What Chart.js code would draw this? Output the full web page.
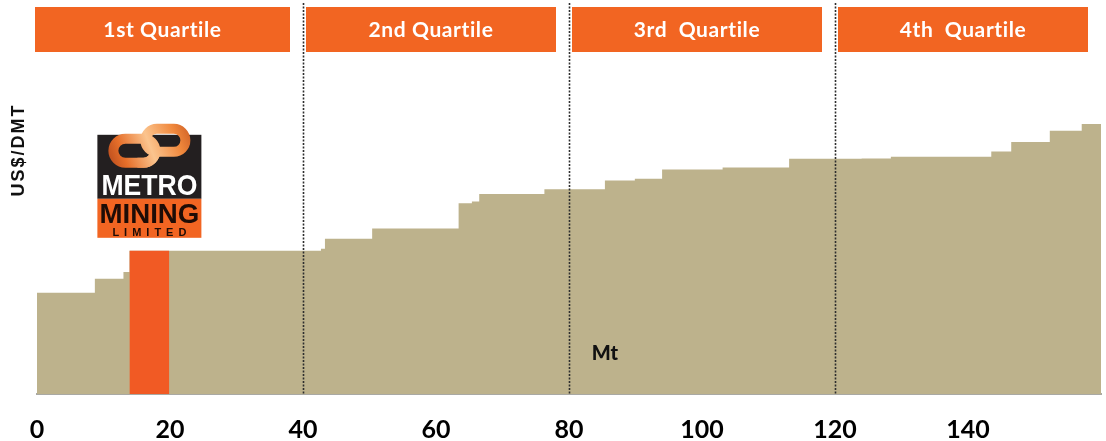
<!DOCTYPE html>
<html>
<head>
<meta charset="utf-8">
<script src="https://cdn.jsdelivr.net/npm/chart.js@4/dist/chart.umd.min.js"></script>
<style>
  html, body { margin: 0; padding: 0; background: #fff; }
  canvas { display: block; }
</style>
</head>
<body>
<canvas id="costCurve" width="1106" height="441"></canvas>
<script>
// where each producer block starts on the cumulative supply axis (Mt)
const supplyStart = [0, 8.7, 13.0, 13.9, 19.9, 42.7, 43.3, 50.4, 63.4, 65.4, 66.5, 76.3,
    85.4, 89.9, 94.0, 103.1, 108.0, 113.1, 124.0, 128.4, 143.5, 146.5, 152.3, 157.1];
const supplyEnd = 160;
// cost of each block (US$/DMT)
const costUsd = [25.3, 28.8, 30.5, 35.8, 35.8, 36.3, 38.8, 41.4, 47.7, 48.1, 50.0, 51.2,
    53.4, 53.8, 56.1, 56.6, 56.6, 58.8, 58.9, 59.3, 60.6, 63.0, 65.8, 67.5];
const metroIndex = 3;

const quartileBreaks = [0, 40, 80, 120, 160];
const quartileNames = ['1st Quartile', '2nd Quartile', '3rd  Quartile', '4th  Quartile'];
const xTickStep = 20;
const xTickLast = 140;

const tan = '#bdb28c';
const orange = '#f26522';

const curvePoints = supplyStart.map((x, i) => ({ x, y: costUsd[i] }));
curvePoints.push({ x: supplyEnd, y: costUsd[costUsd.length - 1] });

const metroPoints = [
    { x: supplyStart[metroIndex], y: costUsd[metroIndex] },
    { x: supplyStart[metroIndex + 1], y: costUsd[metroIndex] },
];

const drawLink = (ctx, x, y, w, h) => {
    ctx.beginPath();
    ctx.roundRect(x, y, w, h, h / 2);
    ctx.stroke();
};

const drawLogo = (ctx, cx, bottom) => {
    const w = 104;
    const left = cx - w / 2;
    const top = bottom - 103;

    ctx.fillStyle = '#231f20';
    ctx.fillRect(left, top, w, 64);
    ctx.fillStyle = orange;
    ctx.fillRect(left, top + 64, w, 39);

    // chain links
    const grad = ctx.createLinearGradient(left, top + 30, left + w, top - 10);
    grad.addColorStop(0, '#9c3414');
    grad.addColorStop(0.25, '#e66f2a');
    grad.addColorStop(0.5, '#fbc48e');
    grad.addColorStop(0.75, '#f0883c');
    grad.addColorStop(1, '#b94618');
    ctx.strokeStyle = grad;
    ctx.lineWidth = 10;
    drawLink(ctx, cx - 36, top + 4, 42, 24);
    drawLink(ctx, cx - 4, top - 6, 40, 23);
    // left link passes back over the right one
    ctx.save();
    ctx.beginPath();
    ctx.rect(cx - 12, top + 14, 24, 20);
    ctx.clip();
    drawLink(ctx, cx - 36, top + 4, 42, 24);
    ctx.restore();

    ctx.textAlign = 'center';
    ctx.textBaseline = 'alphabetic';
    ctx.fillStyle = '#fff';
    ctx.font = 'bold 30px "Liberation Sans"';
    ctx.fillText('METRO', cx, top + 60, 96);
    ctx.fillStyle = '#1e0c06';
    ctx.font = 'bold 28px "Liberation Sans"';
    ctx.fillText('MINING', cx, top + 88, 100);
    ctx.font = 'bold 11px "Liberation Sans"';
    ctx.letterSpacing = '5px';
    ctx.fillText('LIMITED', cx + 2.5, top + 101, 98);
    ctx.letterSpacing = '0px';
};

const decorPlugin = {
    id: 'decor',
    afterDraw(chart) {
        const { ctx, chartArea, scales: { x, y } } = chart;
        ctx.save();

        // dotted quartile separators
        ctx.strokeStyle = '#2e2e2e';
        ctx.lineWidth = 1.6;
        ctx.setLineDash([2, 1.5]);
        quartileBreaks.slice(1, -1).forEach((q) => {
            const px = Math.round(x.getPixelForValue(q)) + 0.5;
            ctx.beginPath();
            ctx.moveTo(px, 3);
            ctx.lineTo(px, chartArea.bottom);
            ctx.stroke();
        });
        ctx.setLineDash([]);

        // quartile header boxes
        ctx.textAlign = 'center';
        ctx.textBaseline = 'middle';
        ctx.font = 'bold 21px Lato';
        quartileNames.forEach((name, i) => {
            const l = x.getPixelForValue(quartileBreaks[i]) + (i === 0 ? -2 : 3);
            const r = x.getPixelForValue(quartileBreaks[i + 1]) - 13;
            ctx.fillStyle = orange;
            ctx.fillRect(l, 7, r - l, 45);
            ctx.fillStyle = '#fff';
            ctx.letterSpacing = '0.6px';
            ctx.fillText(name, (l + r) / 2, 30);
        });
        ctx.letterSpacing = '0px';

        // axis titles
        ctx.fillStyle = '#111';
        ctx.font = 'normal 900 20px Lato';
        ctx.fillText('Mt', x.getPixelForValue(85.4), y.getPixelForValue(10));

        ctx.save();
        ctx.translate(19, 150);
        ctx.rotate(-Math.PI / 2);
        ctx.font = 'bold 18px "Liberation Sans"';
        ctx.letterSpacing = '2px';
        ctx.fillText('US$/DMT', 0, 0);
        ctx.restore();

        // company logo above its block
        const mid = (supplyStart[metroIndex] + supplyStart[metroIndex + 1]) / 2;
        drawLogo(ctx, x.getPixelForValue(mid), y.getPixelForValue(costUsd[metroIndex]) - 13);

        ctx.restore();
    },
};

const ctx = document.getElementById('costCurve').getContext('2d');

new Chart(ctx, {
    type: 'line',
    data: {
        datasets: [
            {
                label: 'Metro Mining',
                data: metroPoints,
                stepped: true,
                fill: 'origin',
                backgroundColor: '#f15a24',
                borderWidth: 0,
                pointRadius: 0,
            }, {
                label: 'Industry',
                data: curvePoints,
                stepped: true,
                fill: 'origin',
                backgroundColor: tan,
                borderWidth: 0,
                pointRadius: 0,
            },
        ],
    },
    options: {
        responsive: false,
        animation: false,
        layout: {
            padding: { left: 37, right: 5, top: 74, bottom: 0 },
        },
        plugins: {
            legend: { display: false },
            tooltip: { enabled: false },
        },
        scales: {
            x: {
                type: 'linear',
                min: 0,
                max: supplyEnd,
                grid: { display: false, drawTicks: false },
                border: { display: true, color: '#a9a9a4', width: 2 },
                ticks: {
                    stepSize: xTickStep,
                    autoSkip: false,
                    maxRotation: 0,
                    padding: 23,
                    color: '#000',
                    font: { family: 'Lato', size: 25, weight: 'bold', lineHeight: 1 },
                    callback: (v) => (v <= xTickLast ? v : ''),
                },
                afterFit: (scale) => {
                    scale.height = 47;
                    scale.paddingLeft = 0;
                    scale.paddingRight = 0;
                },
            },
            y: {
                display: false,
                min: 0,
                max: 80,
            },
        },
    },
    plugins: [decorPlugin],
});
</script>
</body>
</html>
